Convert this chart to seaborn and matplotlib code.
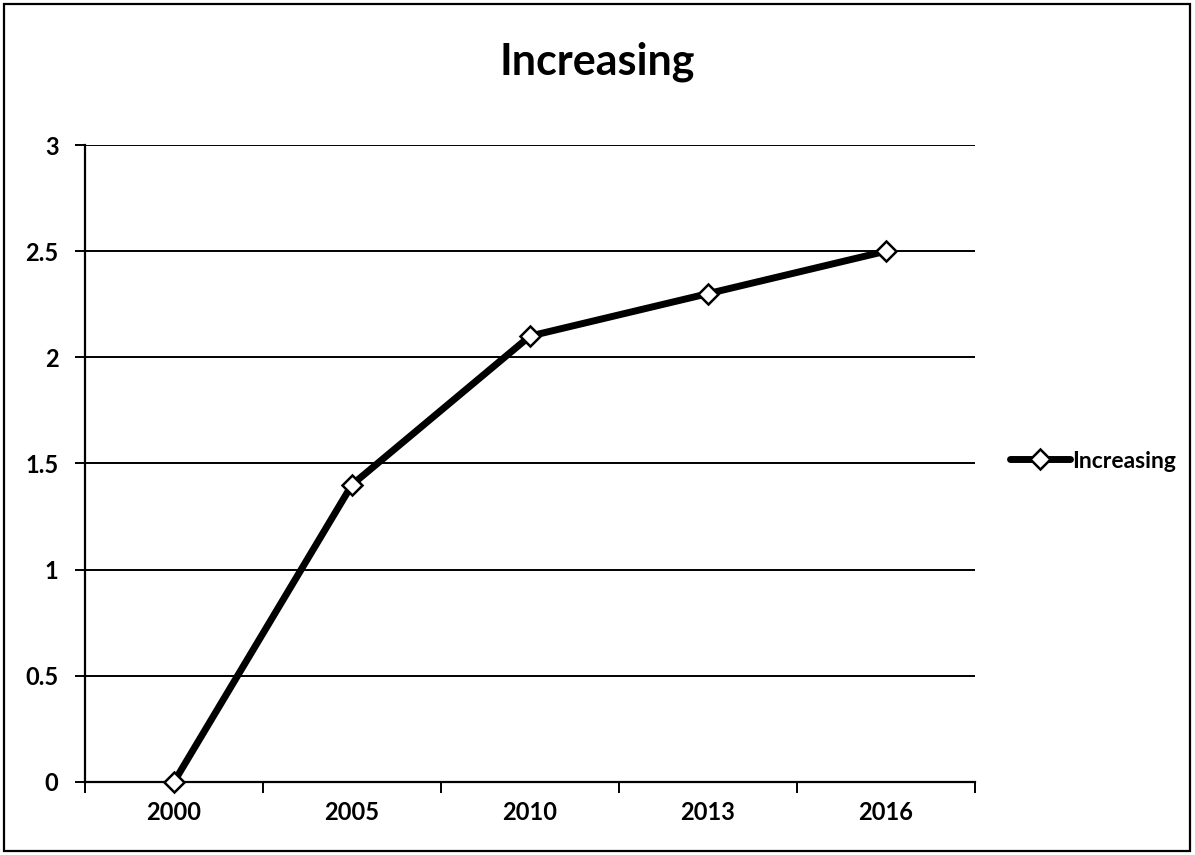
import matplotlib
matplotlib.use("Agg")
import matplotlib.pyplot as plt
import seaborn as sns
import pandas as pd
import numpy as np
from matplotlib.patches import Rectangle

years = ["2000", "2005", "2010", "2013", "2016"]
values = [0, 1.4, 2.1, 2.3, 2.5]
series_name = "Increasing"
y_ticks = [0, 0.5, 1, 1.5, 2, 2.5, 3]
y_tick_labels = ["0", "0.5", "1", "1.5", "2", "2.5", "3"]

sns.set_theme(style="white")
plt.rcParams["font.family"] = ["Lato", "DejaVu Sans"]
plt.rcParams["text.color"] = "black"
plt.rcParams["xtick.color"] = "black"
plt.rcParams["ytick.color"] = "black"

df = pd.DataFrame({"year": years, "value": values, "series": series_name})

fig = plt.figure(figsize=(11.95, 8.55), dpi=100)
fig.patch.set_facecolor("white")
ax = fig.add_axes([0.0711, 0.0854, 0.7448, 0.745])

line_kw = dict(linewidth=5, marker="D", markersize=10, markerfacecolor="white",
               markeredgecolor="black", markeredgewidth=1.8)

sns.lineplot(data=df, x="year", y="value", hue="series", palette=["black"],
             ax=ax, sort=False, legend=False, **line_kw)
for ln in ax.get_lines():
    ln.set_clip_on(False)
    ln.set_zorder(5)

ax.set_xlim(-0.5, len(years) - 0.5)
ax.set_ylim(0, 3)
ax.set_yticks(y_ticks)
ax.set_yticklabels(y_tick_labels)
ax.set_xticks(range(len(years)))
ax.set_xticklabels(years)
ax.set_xticks(np.arange(-0.5, len(years), 1.0), minor=True)
ax.set_xlabel("")
ax.set_ylabel("")

for y in y_ticks[1:]:
    ax.axhline(y, color="black", linewidth=1.4, zorder=0)

for side in ["top", "right"]:
    ax.spines[side].set_visible(False)
for side in ["left", "bottom"]:
    ax.spines[side].set_color("black")
    ax.spines[side].set_linewidth(1.6)

ax.tick_params(axis="y", which="major", left=True, length=7, width=1.4,
               color="black", labelcolor="black", labelsize=17, pad=12)
ax.tick_params(axis="x", which="major", bottom=False, labelcolor="black",
               labelsize=17, pad=8)
ax.tick_params(axis="x", which="minor", bottom=True, length=8, width=1.4,
               color="black")
for lab in ax.get_xticklabels() + ax.get_yticklabels():
    lab.set_fontweight("bold")

fig.text(0.5, 1 - 62 / 855, "Increasing", ha="center", va="center",
         fontsize=31, fontweight="bold", color="black")

# legend entry on the right
handle = plt.Line2D([], [], color="black", **line_kw)
fig.legend([handle], [series_name], loc="center left",
           bbox_to_anchor=(1010 / 1195, 1 - 461 / 855), frameon=False,
           fontsize=16.5, handlelength=2.6, handletextpad=0.1,
           borderpad=0, borderaxespad=0)
for t in fig.legends[0].get_texts():
    t.set_fontweight("bold")
    t.set_color("black")

# outer chart border
fig.patches.append(Rectangle((0.003, 0.005), 0.993, 0.99, transform=fig.transFigure,
                             fill=False, edgecolor="black", linewidth=1.6))

fig.savefig("out.png", dpi=100, facecolor="white")
